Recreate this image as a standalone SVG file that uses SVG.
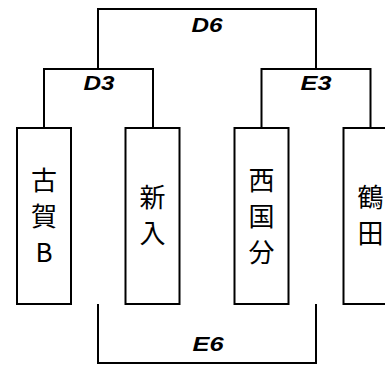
<svg xmlns="http://www.w3.org/2000/svg" width="385" height="365" viewBox="0 0 385 365">
<style>
.box{fill:#fff;stroke:#000;stroke-width:2}
.con{fill:none;stroke:#000;stroke-width:2}
.jp{font-family:"Noto Sans CJK JP","Noto Sans CJK SC",sans-serif;font-size:26px;fill:#000;text-anchor:middle}
.lbl{font-family:"Liberation Sans",Arial,sans-serif;font-size:21px;font-weight:bold;font-style:italic;fill:#000;text-anchor:middle}
</style>
<rect width="385" height="365" fill="#fff"/>
<g id="connectors">
<path class="con" d="M44 128V69H153V128"/>
<path class="con" d="M261.5 128V69H370.5V128"/>
<path class="con" d="M98 69V9H316V69"/>
<path class="con" d="M98 304V363H316V304"/>
<text class="lbl" x="207" y="32" textLength="31" lengthAdjust="spacingAndGlyphs">D6</text>
<text class="lbl" x="99" y="90" textLength="31" lengthAdjust="spacingAndGlyphs">D3</text>
<text class="lbl" x="316" y="90" textLength="31" lengthAdjust="spacingAndGlyphs">E3</text>
<text class="lbl" x="208" y="351" textLength="31" lengthAdjust="spacingAndGlyphs">E6</text>
</g>
<g id="koga">
<rect class="box" x="17" y="128" width="54" height="176"/>
<text class="jp" x="44" y="190">古</text>
<text class="jp" x="44" y="226">賀</text>
<text class="jp" x="44" y="262">B</text>
</g>
<g id="shinnyu">
<rect class="box" x="125.5" y="128" width="54" height="176"/>
<text class="jp" x="152.5" y="207">新</text>
<text class="jp" x="152.5" y="243">入</text>
</g>
<g id="nishikokubu">
<rect class="box" x="234.5" y="128" width="54" height="176"/>
<text class="jp" x="261.5" y="190">西</text>
<text class="jp" x="261.5" y="226">国</text>
<text class="jp" x="261.5" y="262">分</text>
</g>
<g id="tsuruta">
<rect class="box" x="343.5" y="128" width="54" height="176"/>
<text class="jp" x="370.5" y="207">鶴</text>
<text class="jp" x="370.5" y="243">田</text>
</g>
</svg>
